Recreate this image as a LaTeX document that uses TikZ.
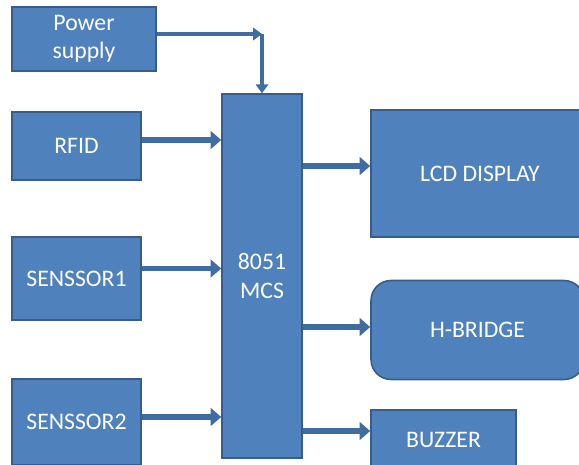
\documentclass[tikz,border=0pt]{standalone}
\usepackage{fontspec}
\setmainfont{Carlito}
\usetikzlibrary{arrows.meta,positioning,calc}
\definecolor{boxfill}{HTML}{4F81BD}
\definecolor{boxedge}{HTML}{385D8A}
\definecolor{linkcol}{HTML}{3E6CA3}
\begin{document}
\begin{tikzpicture}[x=0.02cm,y=-0.02cm,
  blk/.style={draw=boxedge,fill=boxfill,line width=0.9pt,text=white,align=center,
    inner sep=0pt,font=\fontsize{13.5}{16}\selectfont},
  link/.style={draw=linkcol,line width=3.2pt,-{Triangle[length=6pt,width=10pt]}},
  thinlink/.style={draw=linkcol,line width=2.2pt,-{Triangle[length=5pt,width=7pt]}}]
  \clip (0,0) rectangle (579,464);
  \useasboundingbox (0,0) rectangle (579,464);
  % inputs
  \node[blk,minimum width=2.88cm,minimum height=1.28cm] (ps) at (84,39) {Power\\supply};
  \node[blk,minimum width=2.58cm,minimum height=1.36cm] (rfid) at (76.5,146) {RFID};
  \node[blk,minimum width=2.58cm,minimum height=1.66cm] (s1) at (76.5,278.5) {SENSSOR1};
  \node[blk,minimum width=2.58cm,minimum height=1.72cm] (s2) at (76.5,422) {SENSSOR2};
  % controller
  \node[blk,minimum width=1.6cm,minimum height=7.28cm] (mcs) at (262,276) {8051\\MCS};
  % outputs
  \node[blk,minimum width=4.36cm,minimum height=2.54cm] (lcd) at (480,173.5) {LCD DISPLAY};
  \node[blk,rounded corners=0.4cm,minimum width=4.26cm,minimum height=1.98cm] (hb) at (477.5,330) {H-BRIDGE};
  \node[blk,minimum width=2.9cm,minimum height=1.2cm] (bz) at (443.5,440) {BUZZER};
  % connectors
  \coordinate (pc) at ([yshift=0.1cm]ps.east -| mcs.north);
  \draw[thinlink] ([yshift=0.1cm]ps.east) -- (pc);
  \draw[thinlink] (pc) -- (mcs.north);
  \draw[link] ([yshift=0.12cm]rfid.east) -- ([yshift=0.12cm]rfid.east -| mcs.west);
  \draw[link] ([yshift=0.2cm]s1.east) -- ([yshift=0.2cm]s1.east -| mcs.west);
  \draw[link] ([yshift=0.1cm]s2.east) -- ([yshift=0.1cm]s2.east -| mcs.west);
  \draw[link] ([yshift=0.15cm]lcd.west -| mcs.east) -- ([yshift=0.15cm]lcd.west);
  \draw[link] ([yshift=0.06cm]hb.west -| mcs.east) -- ([yshift=0.06cm]hb.west);
  \draw[link] ([yshift=0.18cm]bz.west -| mcs.east) -- ([yshift=0.18cm]bz.west);
\end{tikzpicture}
\end{document}
